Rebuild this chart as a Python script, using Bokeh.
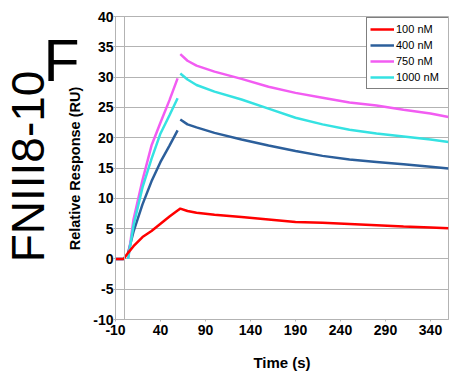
import math
import numpy as np
from bokeh.plotting import figure
from bokeh.layouts import row
from bokeh.models import (Legend, LegendItem, FixedTicker, Span, Range1d,
                          CustomJSTickFormatter)
from bokeh.core.properties import value
from bokeh.embed import file_html
from bokeh.resources import INLINE

# ---- data ----
series_names = ["100 nM", "400 nM", "750 nM", "1000 nM"]
series_colors = ["#ff0000", "#2c5f9b", "#f25cf2", "#35e2e2"]

t_base = [-10, -1]
t_assoc = [4, 10, 20, 30, 40, 50, 59]
t_dissoc = [62, 70, 80, 100, 130, 160, 190, 220, 250, 280, 310, 340, 360]

base_100 = [0, 0]
base_400 = [0, 0]
base_750 = [0, 0]
base_1000 = [0, 0]

assoc_100 = [1.0, 2.1, 3.6, 4.6, 5.8, 7.0, 8.0]
assoc_400 = [1.0, 4.5, 9.0, 12.8, 16.0, 18.7, 21.2]
assoc_750 = [0.0, 6.5, 13.0, 18.7, 22.5, 26.2, 29.8]
assoc_1000 = [0.0, 5.5, 11.8, 16.5, 20.7, 23.7, 26.5]

dissoc_100 = [8.3, 7.9, 7.6, 7.3, 6.9, 6.5, 6.1, 5.95, 5.75, 5.55, 5.35, 5.2, 5.05]
dissoc_400 = [23.0, 22.2, 21.7, 20.8, 19.7, 18.7, 17.8, 17.0, 16.4, 16.0, 15.6, 15.2, 14.9]
dissoc_750 = [33.8, 32.7, 31.9, 30.9, 29.7, 28.4, 27.4, 26.6, 25.8, 25.3, 24.6, 24.0, 23.4]
dissoc_1000 = [30.6, 29.6, 28.7, 27.6, 26.3, 24.8, 23.3, 22.2, 21.3, 20.7, 20.2, 19.7, 19.3]

x_ticks = [-10, 40, 90, 140, 190, 240, 290, 340]
y_ticks = [-10, -5, 0, 5, 10, 15, 20, 25, 30, 35, 40]

panel_letter = "F"
panel_name = "FNIII8-10"
y_title = "Relative Response (RU)"
x_title = "Time (s)"

bases = [base_100, base_400, base_750, base_1000]
assocs = [assoc_100, assoc_400, assoc_750, assoc_1000]
dissocs = [dissoc_100, dissoc_400, dissoc_750, dissoc_1000]

FONT = "Liberation Sans"
GRID = "#b3b3b3"

LEFT_W = 89
H = 374
TOP = 16
BOTTOM = 55

# ---- left strip (same vertical borders as the chart, so frames line up) ----
# strip coordinates: x = pixels from the left, y = pixels from the top of the page
left = figure(width=LEFT_W, height=H, output_backend="svg",
              toolbar_location=None, x_axis_type=None, y_axis_type=None,
              x_range=Range1d(0, LEFT_W), y_range=Range1d(H - BOTTOM, TOP),
              min_border=0, min_border_left=0, min_border_right=0,
              min_border_top=TOP, min_border_bottom=BOTTOM,
              background_fill_color="white", border_fill_color="white")
left.grid.visible = False
left.outline_line_color = None

left.text(x=[43], y=[60], text=[panel_letter], text_font=value(FONT),
          text_font_size=value("59px"), text_align="left",
          text_baseline="alphabetic", text_color="black")
left.text(x=[27], y=[166], text=[panel_name], angle=math.pi / 2,
          text_font=value(FONT), text_font_size=value("46px"),
          text_align="center", text_baseline="middle", text_color="black")
left.text(x=[74], y=[168], text=[y_title], angle=math.pi / 2,
          text_font=value(FONT), text_font_style=value("bold"),
          text_font_size=value("14.5px"), text_align="center",
          text_baseline="middle", text_color="black")

# ---- main chart ----
p = figure(width=462 - LEFT_W, height=H, output_backend="svg", toolbar_location=None,
           x_range=(-10, 360), y_range=(-10, 40),
           min_border_left=26, min_border_right=14, min_border_top=TOP,
           min_border_bottom=BOTTOM, background_fill_color="white",
           border_fill_color="white")

p.outline_line_color = GRID
p.outline_line_width = 1
p.xgrid.grid_line_color = None
p.ygrid.grid_line_color = GRID
p.ygrid.grid_line_width = 1

fmt = CustomJSTickFormatter(code="return String(tick);")
p.xaxis.ticker = FixedTicker(ticks=x_ticks)
p.yaxis.ticker = FixedTicker(ticks=y_ticks)
p.xaxis.formatter = fmt
p.yaxis.formatter = fmt
for ax in (p.xaxis[0], p.yaxis[0]):
    ax.axis_line_color = GRID
    ax.major_tick_line_color = GRID
    ax.minor_tick_line_color = None
    ax.major_tick_in = 0
    ax.major_tick_out = 2
    ax.major_label_text_font = FONT
    ax.major_label_text_font_style = "bold"
    ax.major_label_text_font_size = "14px"
    ax.major_label_text_color = "black"
    ax.axis_label_text_font = FONT
    ax.axis_label_text_font_style = "bold"
    ax.axis_label_text_color = "black"
p.xaxis.axis_label = x_title
p.xaxis.axis_label_text_font_size = "15px"
p.xaxis.major_label_standoff = 3
p.xaxis.axis_label_standoff = 16
p.yaxis.major_label_standoff = 0

p.add_layout(Span(location=0, dimension="height", line_color=GRID, line_width=1))

rmap = {}
for i in [1, 2, 3, 0]:
    if i == 0:
        xs = t_base + t_assoc + t_dissoc
        ys = bases[i] + assocs[i] + dissocs[i]
    else:
        xs = t_base + [np.nan] + t_assoc + [np.nan] + t_dissoc
        ys = bases[i] + [np.nan] + assocs[i] + [np.nan] + dissocs[i]
    rmap[i] = p.line(xs, ys, line_color=series_colors[i], line_width=2.5)

legend = Legend(items=[LegendItem(label=series_names[i], renderers=[rmap[i]]) for i in range(4)],
                location=(251, 230))
legend.label_text_font = FONT
legend.label_text_font_size = "11px"
legend.label_text_color = "black"
legend.border_line_color = "black"
legend.border_line_width = 1
legend.background_fill_alpha = 1
legend.glyph_width = 24
legend.glyph_height = 16
legend.label_height = 16
legend.label_standoff = 2
legend.spacing = 0
legend.padding = 3
legend.margin = 0
legend.label_width = 49
p.add_layout(legend)

layout = row(left, p, spacing=0)
open("out.html", "w").write(file_html(layout, INLINE))
